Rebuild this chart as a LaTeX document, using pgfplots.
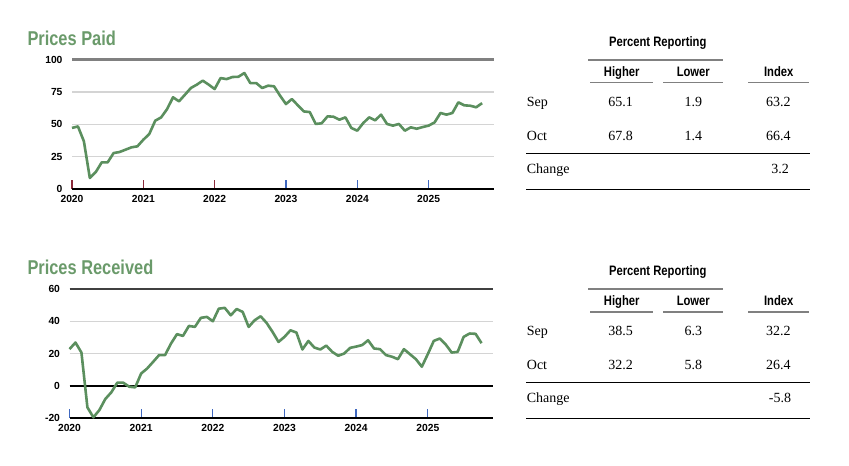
\documentclass[border=0pt]{standalone}
\usepackage{pgfplots}
\pgfplotsset{compat=1.18}
\usepackage{fontspec}
\setmainfont{Liberation Sans}
\newfontfamily\narrow[FakeStretch=0.82]{Liberation Sans}
\newfontfamily\tnr{Liberation Serif}

\definecolor{linegreen}{HTML}{5B8F5E}
\definecolor{titlegreen}{HTML}{6A9A6A}
\definecolor{gridgray}{HTML}{D4D4D4}
\definecolor{tickred}{HTML}{8B2A3A}
\definecolor{tickblue}{HTML}{3F68C0}

\pgfplotsset{
  monthaxis/.style={
    scale only axis,
    xmin=0, xmax=71,
    axis line style={draw=none},
    xtick pos=bottom, ytick pos=left,
    tick align=inside,
    major tick length=9pt,
    ytick style={draw=none},
    ymajorgrids=true,
    grid style={gridgray, line width=1.2pt},
    xtick={0,12,24},
    xticklabels={2020,2021,2022},
    extra x ticks={36,48,60},
    extra x tick labels={2023,2024,2025},
    /pgf/number format/assume math mode=true,
    tick label style={font=\fontsize{10.3}{12}\selectfont\bfseries, text=black},
    yticklabel style={xshift=-6pt},
    xticklabel style={yshift=-3pt},
    clip=false,
  }
}

\begin{document}
\begin{tikzpicture}[x=1pt,y=1pt]
\path[use as bounding box] (0,0) rectangle (849,466);

% ---------- Prices Paid ----------
\node[anchor=base west, inner sep=0, text=titlegreen,
      font=\narrow\bfseries\fontsize{20}{24}\selectfont] at (27.3,420) {Prices Paid};

\begin{axis}[monthaxis,
    at={(72pt,277pt)}, anchor=south west,
    width=422pt, height=129.3pt,
    ymin=0, ymax=100,
    ytick={0,25,50,75,100},
    xtick style={draw=tickred, line width=1.3pt},
    extra x tick style={grid=none, xtick style={draw=tickblue, line width=1.3pt}},
]
\draw[black!50, line width=2.4pt] (rel axis cs:0,1) -- (rel axis cs:1,1);
\draw[black, line width=1.5pt] (rel axis cs:0,0) -- (rel axis cs:1,0);
\addplot[linegreen, line width=2.6pt, line join=round] coordinates {
(0,47.2)(1,48.4)(2,36.9)(3,8.5)(4,13.1)(5,20.6)(6,20.6)(7,27.8)(8,28.6)(9,30.4)(10,32.2)(11,33.0)
(12,38.1)(13,42.5)(14,52.8)(15,55.4)(16,61.8)(17,70.9)(18,67.8)(19,72.9)(20,78.1)(21,80.7)(22,83.8)(23,80.7)
(24,77.3)(25,85.8)(26,85.0)(27,86.6)(28,86.8)(29,89.7)(30,81.9)(31,81.9)(32,78.1)(33,79.9)(34,79.4)(35,72.2)
(36,65.7)(37,69.6)(38,64.7)(39,60.0)(40,59.5)(41,50.3)(42,50.8)(43,56.2)(44,55.9)(45,53.6)(46,55.4)(47,47.2)
(48,45.1)(49,51.0)(50,55.4)(51,53.1)(52,57.5)(53,50.3)(54,49.0)(55,50.3)(56,45.1)(57,47.7)(58,46.6)(59,47.9)
(60,49.0)(61,51.5)(62,58.8)(63,57.5)(64,58.8)(65,67.0)(66,64.7)(67,64.4)(68,63.2)(69,66.4)
};
\end{axis}

% ---------- Prices Received ----------
\node[anchor=base west, inner sep=0, text=titlegreen,
      font=\narrow\bfseries\fontsize{20}{24}\selectfont] at (27.3,191) {Prices Received};

\begin{axis}[monthaxis,
    at={(69.5pt,48pt)}, anchor=south west,
    width=424pt, height=129pt,
    ymin=-20, ymax=60,
    ytick={-20,0,20,40,60},
    xtick style={draw=tickblue, line width=1.3pt},
    extra x tick style={grid=none, xtick style={draw=tickblue, line width=1.3pt}},
]
\draw[black!75, line width=1.8pt] (rel axis cs:0,1) -- (rel axis cs:1,1);
\draw[black, line width=2pt] (axis cs:0,0) -- (axis cs:71,0);
\draw[black, line width=1.5pt] (rel axis cs:0,0) -- (rel axis cs:1,0);
\addplot[linegreen, line width=2.6pt, line join=round] coordinates {
(0,22.7)(1,26.8)(2,20.6)(3,-13.4)(4,-19.6)(5,-15.1)(6,-8.2)(7,-4.1)(8,1.9)(9,1.9)(10,-0.6)(11,-1.0)
(12,7.6)(13,10.7)(14,14.8)(15,19.0)(16,19.0)(17,26.2)(18,32.0)(19,30.9)(20,37.1)(21,36.5)(22,42.1)(23,42.7)
(24,40.0)(25,47.8)(26,48.3)(27,43.7)(28,47.6)(29,45.8)(30,36.5)(31,40.6)(32,43.1)(33,39.0)(34,33.4)(35,27.2)
(36,30.3)(37,34.4)(38,33.0)(39,22.5)(40,27.8)(41,23.7)(42,22.5)(43,24.9)(44,21.0)(45,18.6)(46,20.0)(47,23.5)
(48,24.3)(49,25.2)(50,28.2)(51,23.1)(52,22.7)(53,19.0)(54,18.0)(55,16.5)(56,22.7)(57,19.6)(58,16.5)(59,11.8)
(60,19.6)(61,27.8)(62,29.3)(63,25.6)(64,20.6)(65,21.0)(66,30.3)(67,32.4)(68,32.2)(69,26.4)
};
\end{axis}

% ---------- tables ----------
\foreach \dy/\hs/\ls/\is/\ho/\lo/\io/\ch in
  {0/65.1/1.9/63.2/67.8/1.4/66.4/3.2, 229.3/38.5/6.3/32.2/32.2/5.8/26.4/-5.8}{
  \begin{scope}[yshift=-\dy]
  \node[anchor=base, inner sep=0, font=\narrow\bfseries\fontsize{13.7}{16}\selectfont]
    at (657.7,419.3) {Percent Reporting};
  \draw[black!50, line width=1.8pt] (588,406) -- (723,406);
  \foreach \x/\t in {621.7/Higher, 693.3/Lower, 778.7/Index}
    \node[anchor=base, inner sep=0, font=\narrow\bfseries\fontsize{13.7}{16}\selectfont]
      at (\x,389.3) {\t};
  \draw[black!50, line width=1.5pt] (590,383.3) -- (653,383.3);
  \draw[black!50, line width=1.5pt] (663,383.3) -- (723,383.3);
  \draw[black!50, line width=1.5pt] (748,383.3) -- (809,383.3);
  \begin{scope}[every node/.style={anchor=base, inner sep=0, font=\tnr\fontsize{14}{16}\selectfont}]
    \node[anchor=base west] at (526.7,359.5) {Sep};
    \node at (620.7,359.5) {\hs};
    \node at (693.3,359.5) {\ls};
    \node at (778.3,359.5) {\is};
    \node[anchor=base west] at (526.7,325.3) {Oct};
    \node at (620.7,325.3) {\ho};
    \node at (693.3,325.3) {\lo};
    \node at (778.3,325.3) {\io};
    \node[anchor=base west] at (526.7,292.7) {Change};
    \node at (780,292.7) {\ch};
  \end{scope}
  \draw[black, line width=1pt] (526,312.7) -- (810,312.7);
  \draw[black, line width=1pt] (526,276.7) -- (810,276.7);
  \end{scope}
}
\end{tikzpicture}
\end{document}
